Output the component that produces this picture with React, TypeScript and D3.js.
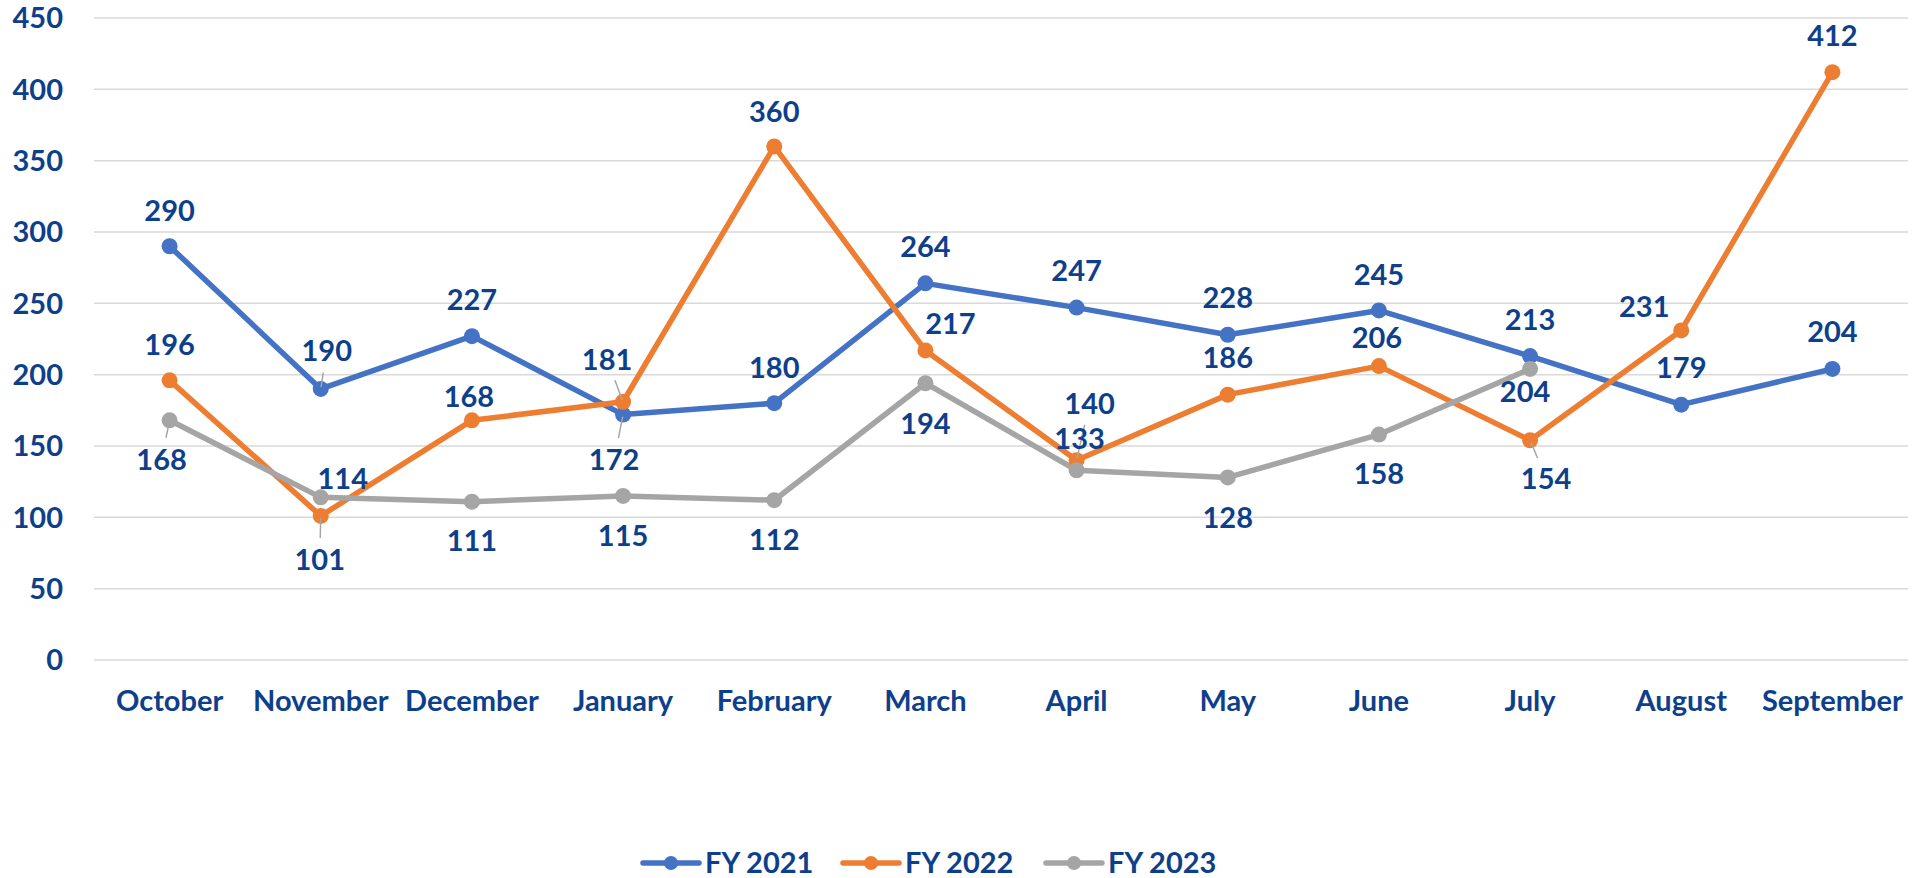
import React from "react";
import * as d3 from "d3";

const months = ["October","November","December","January","February","March","April","May","June","July","August","September"];
const fy2021 = [290,190,227,172,180,264,247,228,245,213,179,204];
const fy2022 = [196,101,168,181,360,217,140,186,206,154,231,412];
const fy2023: (number|null)[] = [168,114,111,115,112,194,133,128,158,204,null,null];
const seriesNames = ["FY 2021","FY 2022","FY 2023"];
const yTicks = [0,50,100,150,200,250,300,350,400,450];

// label layout offsets (label centre relative to point), leader flags
const off2021: [number,number,boolean][] = [[0,-36,false],[6,-38,true],[0,-37,false],[-9,45,true],[0,-36,false],[0,-37,false],[0,-37,false],[0,-37,false],[0,-36,false],[0,-37,false],[0,-37,false],[0,-37,false]];
const off2022: [number,number,boolean][] = [[0,-36,false],[-1,44,true],[-3,-24,false],[-16,-42,true],[0,-35,false],[25,-27,false],[13,-57,true],[0,-37,false],[-2,-29,false],[16,38,true],[-37,-24,false],[0,-37,false]];
const off2023: [number,number,boolean][] = [[-8,39,true],[22,-19,false],[0,39,false],[0,40,false],[0,39,false],[0,40,false],[3,-32,false],[0,40,false],[0,39,false],[-5,23,false],[0,0,false],[0,0,false]];

const colors = ["#4472C4","#ED7D31","#A5A5A5"];
const textColor = "#0E3F8B";
const FONT = "Lato, 'Open Sans', sans-serif";
const FS = 29;

export default function App() {
  const W = 1914, H = 878;
  const left = 94, right = 1908, top = 18, bottom = 660;
  const x = d3.scaleBand().domain(months).range([left, right]);
  const y = d3.scaleLinear().domain([0, 450]).range([bottom, top]);
  const cx = (m: string) => (x(m) as number) + x.bandwidth() / 2;
  const all = [fy2021, fy2022, fy2023];
  const offs = [off2021, off2022, off2023];
  const line = d3.line<[number, number | null]>()
    .defined(d => d[1] != null)
    .x(d => cx(months[d[0]]))
    .y(d => y(d[1] as number));
  const capShift = FS * 0.36;

  const legendX = [643, 843, 1046];
  const legendY = 863;

  return (
    <svg width={W} height={H} style={{ display: "block", position: "absolute", left: 0, top: 0 }} fontFamily={FONT} fontWeight="bold">
      <rect width={W} height={H} fill="#fff" />
      {yTicks.map(t => (
        <g key={t}>
          <line x1={left} x2={right} y1={y(t)} y2={y(t)} stroke="#D9D9D9" strokeWidth={1.5} />
          <text x={63} y={y(t) + capShift} textAnchor="end" fontSize={FS} fill={textColor}>{t}</text>
        </g>
      ))}
      {months.map(m => (
        <text key={m} x={cx(m)} y={701 + capShift} textAnchor="middle" fontSize={FS} fill={textColor}>{m}</text>
      ))}
      {all.map((s, i) => (
        <path key={i} d={line(s.map((v, j) => [j, v] as [number, number | null])) || ""} fill="none" stroke={colors[i]} strokeWidth={5.5} strokeLinejoin="round" strokeLinecap="round" />
      ))}
      {all.map((s, i) => s.map((v, j) => v == null ? null : (
        <circle key={`${i}-${j}`} cx={cx(months[j])} cy={y(v)} r={8} fill={colors[i]} />
      )))}
      {all.map((s, i) => s.map((v, j) => {
        if (v == null) return null;
        const [dx, dy, leader] = offs[i][j];
        const px = cx(months[j]), py = y(v);
        const lx = px + dx, ly = py + dy;
        let ld = null;
        if (leader) {
          const len = Math.hypot(dx, dy);
          const ux = dx / len, uy = dy / len;
          const start = 2;
          const end = len - 22;
          ld = <line x1={px + ux * start} y1={py + uy * start} x2={px + ux * end} y2={py + uy * end} stroke="#A6A6A6" strokeWidth={1.5} />;
        }
        return (
          <g key={`l${i}-${j}`}>
            {ld}
            <text x={lx} y={ly + capShift} textAnchor="middle" fontSize={FS} fill={textColor}>{v}</text>
          </g>
        );
      }))}
      {seriesNames.map((n, i) => (
        <g key={n}>
          <line x1={legendX[i]} x2={legendX[i] + 56} y1={legendY} y2={legendY} stroke={colors[i]} strokeWidth={5.5} strokeLinecap="round" />
          <circle cx={legendX[i] + 28} cy={legendY} r={7} fill={colors[i]} />
          <text x={legendX[i] + 62} y={legendY + capShift} fontSize={FS} fill={textColor}>{n}</text>
        </g>
      ))}
    </svg>
  );
}
